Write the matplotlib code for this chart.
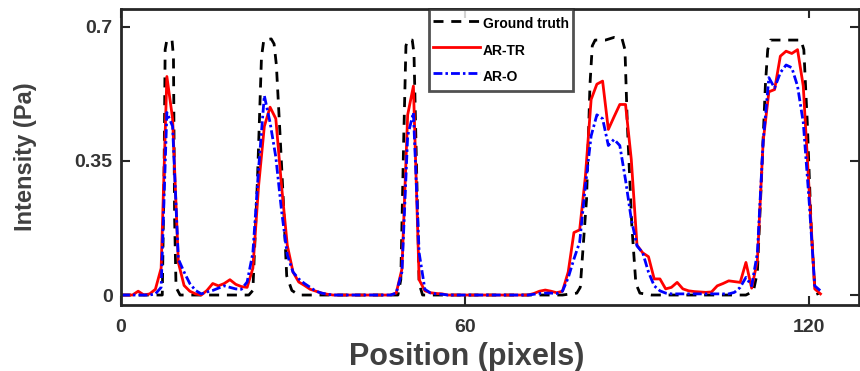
import matplotlib
import numpy as np
import matplotlib.pyplot as plt

matplotlib.use('Agg')

matplotlib.rcParams["font.family"] = "Liberation Sans"
matplotlib.rcParams["font.weight"] = "bold"

# ---------------------------------------------------------------------------
# data
# ---------------------------------------------------------------------------
position = np.arange(0, 123)

ar_tr = [
    0, 0, 0, 0.01, 0, 0.003, 0.015, 0.07, 0.57, 0.46,
    0.085, 0.025, 0.01, 0.003, 0, 0.012, 0.03, 0.024, 0.03, 0.04,
    0.028, 0.022, 0.02, 0.07, 0.285, 0.44, 0.49, 0.46, 0.285, 0.13,
    0.06, 0.034, 0.025, 0.015, 0.01, 0.005, 0.002, 0, 0, 0,
    0, 0, 0, 0, 0, 0, 0, 0, 0.005, 0.068,
    0.47, 0.545, 0.04, 0.011, 0.006, 0.004, 0.003, 0, 0, 0,
    0, 0, 0, 0, 0, 0, 0, 0, 0, 0,
    0, 0, 0.004, 0.01, 0.013, 0.01, 0.006, 0.01, 0.06, 0.163,
    0.17, 0.31, 0.51, 0.55, 0.558, 0.432, 0.465, 0.497, 0.497, 0.354,
    0.13, 0.11, 0.10, 0.042, 0.042, 0.016, 0.02, 0.033, 0.016, 0.011,
    0.009, 0.008, 0.007, 0.008, 0.024, 0.03, 0.037, 0.035, 0.033, 0.085,
    0.018, 0.09, 0.40, 0.53, 0.536, 0.623, 0.636, 0.63, 0.64, 0.545,
    0.28, 0.016, 0.003,
]

ar_o = [
    0, 0, 0, 0, 0, 0, 0.003, 0.02, 0.476, 0.44,
    0.094, 0.06, 0.03, 0.012, 0.003, 0.008, 0.012, 0.018, 0.024, 0.02,
    0.016, 0.015, 0.034, 0.11, 0.33, 0.52, 0.45, 0.36, 0.22, 0.105,
    0.06, 0.042, 0.03, 0.02, 0.01, 0.005, 0.002, 0, 0, 0,
    0, 0, 0, 0, 0, 0, 0, 0, 0.005, 0.06,
    0.415, 0.476, 0.11, 0.015, 0.005, 0.003, 0.002, 0, 0, 0,
    0, 0, 0, 0, 0, 0, 0, 0, 0, 0,
    0, 0, 0.002, 0.004, 0.005, 0.005, 0.004, 0.01, 0.045, 0.094,
    0.138, 0.285, 0.415, 0.47, 0.46, 0.39, 0.406, 0.39, 0.30, 0.198,
    0.128, 0.11, 0.06, 0.024, 0.011, 0.005, 0.003, 0.003, 0.003, 0.003,
    0.003, 0.003, 0.003, 0.003, 0.003, 0.003, 0.003, 0.007, 0.02, 0.046,
    0.024, 0.11, 0.40, 0.567, 0.54, 0.58, 0.60, 0.593, 0.545, 0.45,
    0.25, 0.024, 0.011,
]

# ground truth (its own sampling, sharp edges)
gt_x = [0, 7.2, 7.5, 7.7, 8.0, 8.9, 9.15, 9.35, 9.6, 10.3,
        22.3, 23.0, 23.8, 24.5, 24.9, 26.2, 26.7, 27.1, 27.7, 28.3, 28.9, 29.8, 31.0,
        48.3, 48.8, 49.3, 49.7, 50.0, 50.8, 51.1, 51.6, 52.0, 52.6,
        77.0, 79.5, 80.1, 81.2, 81.8, 82.2, 82.7, 84.5, 86.0, 87.4, 87.9, 88.3, 89.1,
        89.8, 90.5, 92.5,
        109.0, 110.3, 111.0, 111.7, 112.4, 112.8, 113.3, 118.6, 119.1, 119.7, 120.4,
        121.0, 121.6]
gt_y = [0, 0, 0.3, 0.64, 0.665, 0.665, 0.62, 0.2, 0.02, 0,
        0, 0.012, 0.3, 0.62, 0.665, 0.668, 0.655, 0.6, 0.43, 0.25, 0.05, 0.012, 0,
        0, 0.04, 0.4, 0.65, 0.665, 0.665, 0.63, 0.3, 0.03, 0,
        0, 0.005, 0.02, 0.25, 0.55, 0.65, 0.665, 0.665, 0.672, 0.668, 0.64, 0.45, 0.18,
        0.03, 0.005, 0,
        0, 0.01, 0.06, 0.3, 0.55, 0.64, 0.665, 0.665, 0.64, 0.45, 0.17,
        0.02, 0]

x_ticks = [0, 60, 120]
y_ticks = [0, 0.35, 0.7]
y_tick_labels = ['0', '0.35', '0.7']

# ---------------------------------------------------------------------------
# plot
# ---------------------------------------------------------------------------
fig = plt.figure(figsize=(8.6, 3.71), dpi=100)
ax = fig.add_axes([0.1407, 0.1779, 0.858, 0.7978])

ax.plot(gt_x, gt_y, color='black', lw=2.0, dashes=(3.6, 2.8), label='Ground truth')
ax.plot(position, ar_tr, color='red', lw=2.0, label='AR-TR')
ax.plot(position, ar_o, color='blue', lw=2.0, dashes=(3.2, 1.1, 0.9, 1.1), label='AR-O')

ax.set_xlim(0, 128.7)
ax.set_ylim(-0.026, 0.746)
ax.set_xticks(x_ticks)
ax.set_yticks(y_ticks)
ax.set_yticklabels(y_tick_labels)

ax.tick_params(direction='in', length=6.5, width=1.5, colors='#262626',
               labelsize=14, top=True, right=True, pad=10)
ax.tick_params(axis='y', pad=6)
for lbl in ax.get_xticklabels() + ax.get_yticklabels():
    lbl.set_color('#333333')
    lbl.set_fontweight('bold')
for sp in ax.spines.values():
    sp.set_linewidth(2.0)
    sp.set_color('#262626')

ax.set_xlabel('Position (pixels)', fontsize=22, fontweight='bold', color='#404040')
ax.set_ylabel('Intensity (Pa)', fontsize=17, fontweight='bold', color='#404040')
ax.xaxis.set_label_coords(0.468, -0.126)
ax.yaxis.set_label_coords(-0.114, 0.50)

leg = ax.legend(loc='upper left', bbox_to_anchor=(0.417, 1.0), borderaxespad=0,
                prop={'weight': 'bold', 'size': 10},
                frameon=True, fancybox=False, handlelength=3.4, handleheight=2.0,
                handletextpad=0.2, borderpad=0.3, labelspacing=0.35)
leg.get_frame().set_edgecolor('#262626')
leg.get_frame().set_linewidth(2.0)

plt.savefig('out.png', dpi=100)
